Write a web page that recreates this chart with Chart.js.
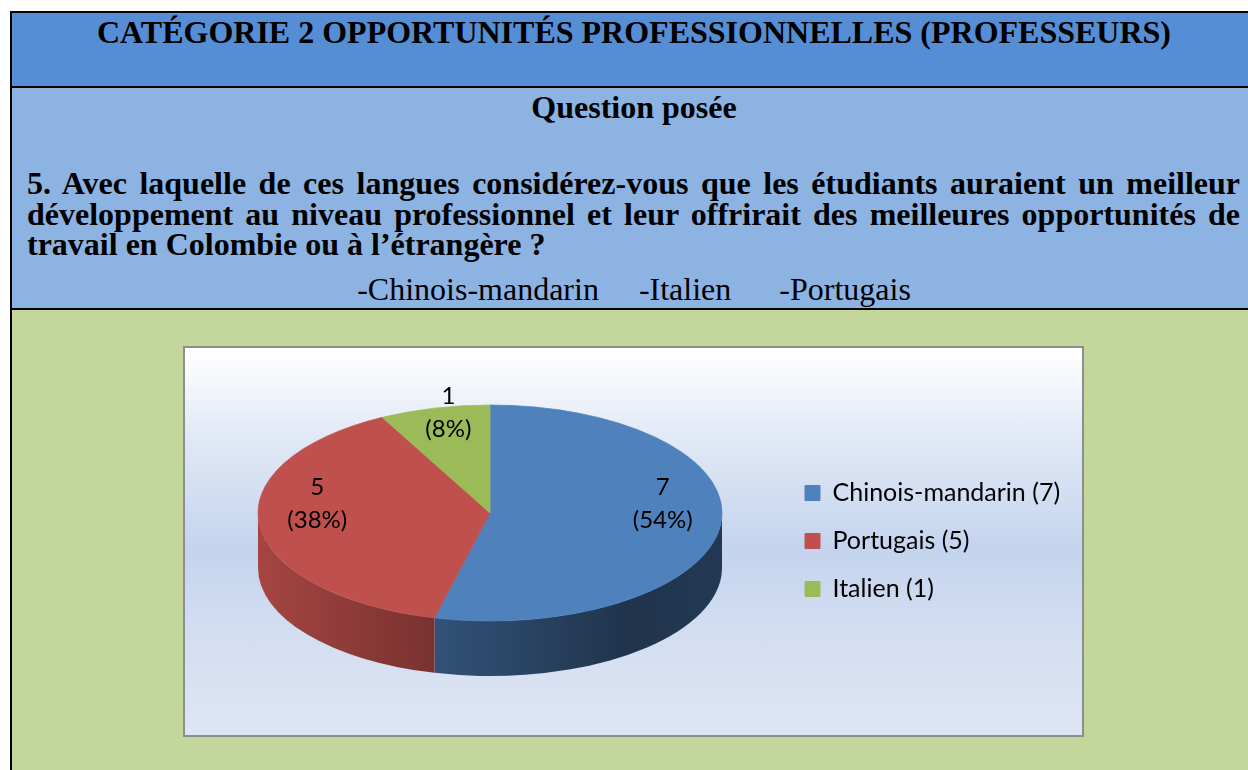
<!DOCTYPE html>
<html lang="fr">
<head>
  <meta charset="UTF-8" />
  <title>Catégorie 2 - Opportunités professionnelles (professeurs)</title>
  <script src="https://cdn.jsdelivr.net/npm/chart.js"></script>
  <style>
    html, body { margin: 0; padding: 0; background: #fff; width: 1248px; height: 770px; overflow: hidden; }
    .tableau {
      position: absolute; left: 10px; top: 11px; width: 1244px;
      border: 2px solid #000; border-bottom: none;
      font-family: "Liberation Serif", "Times New Roman", serif; color: #000;
    }
    .entete {
      height: 73px; background: #558ed5; border-bottom: 2px solid #000;
      text-align: center; font-weight: bold; font-size: 32px; line-height: 38px;
    }
    .question { position: relative; height: 220px; background: #8db3e2; border-bottom: 2px solid #000; }
    .question .titre { text-align: center; font-weight: bold; font-size: 32px; line-height: 38px; }
    .question .texte { position: absolute; left: 15px; right: 16px; top: 80px; font-weight: bold; font-size: 32px; line-height: 30.5px; }
    .texte .just { text-align: justify; text-align-last: justify; }
    .question .choix { position: absolute; left: 0; right: 0; top: 182px; text-align: center; font-size: 32px; line-height: 38px; white-space: pre; }
    .graphe { position: relative; height: 470px; background: #c3d69b; }
    .cadre {
      position: absolute; left: 171px; top: 36px; width: 897px; height: 387px;
      border: 2px solid #8e8e8e;
      background: linear-gradient(to bottom, #ffffff 0%, #dfe7f5 25%, #c4d4ee 52%, #d4def1 75%, #dee6f4 100%);
    }
    .cadre canvas { display: block; }
  </style>
</head>
<body>
  <div class="tableau">
    <div class="entete">CATÉGORIE 2 OPPORTUNITÉS PROFESSIONNELLES (PROFESSEURS)</div>
    <div class="question">
      <div class="titre">Question posée</div>
      <div class="texte">
        <div class="just">5. Avec laquelle de ces langues considérez-vous que les étudiants auraient un meilleur</div>
        <div class="just">développement au niveau professionnel et leur offrirait des meilleures opportunités de</div>
        <div>travail en Colombie ou à l’étrangère ?</div>
      </div>
      <div class="choix">-Chinois-mandarin     -Italien      -Portugais</div>
    </div>
    <div class="graphe">
      <div class="cadre"><canvas id="camembert" width="897" height="387"></canvas></div>
    </div>
  </div>

  <script>
    // Réponses des professeurs
    const categories = ['Chinois-mandarin', 'Portugais', 'Italien'];
    const reponses = [7, 5, 1];
    const couleurs = ['#4f81bd', '#c0504d', '#9bbb59'];

    const total = reponses.reduce((a, b) => a + b, 0);
    const etiquettes = categories.map((c, i) => c + ' (' + reponses[i] + ')');

    // Effet 3D : inclinaison du disque, épaisseur, ombrage des côtés
    const inclinaison = 0.4655;
    const epaisseur = 55;
    const ombrage = [[0, 0.86], [0.36, 0.64], [0.8, 0.40], [1, 0.44]];
    const rayon = 232;
    const policeLegende = { family: 'Lato', size: 25 };
    const policeValeurs = { family: 'Lato', size: 24 };

    function assombrir(hex, f) {
      const n = parseInt(hex.slice(1), 16);
      const r = Math.round(((n >> 16) & 255) * f);
      const g = Math.round(((n >> 8) & 255) * f);
      const b = Math.round((n & 255) * f);
      return 'rgb(' + r + ',' + g + ',' + b + ')';
    }

    // largeur de la légende pour garder le camembert à sa place
    const sonde = document.createElement('canvas').getContext('2d');
    sonde.font = policeLegende.size + 'px ' + policeLegende.family;
    const texteMax = Math.max(...etiquettes.map(t => sonde.measureText(t).width));
    const legendePadding = 23;
    const largeurLegende = legendePadding + 15 + policeLegende.size / 2 + texteMax + 10;
    const legendeGauche = 597;

    const camembert3d = {
      id: 'camembert3d',
      beforeDatasetsDraw(chart) {
        const ctx = chart.ctx;
        const arcs = chart.getDatasetMeta(0).data;
        const cx = arcs[0].x, cy = arcs[0].y, r = arcs[0].outerRadius;
        const ry = r * inclinaison;

        // côtés visibles (moitié avant du disque)
        arcs.forEach((arc, i) => {
          const a0 = Math.max(arc.startAngle, 0);
          const a1 = Math.min(arc.endAngle, Math.PI);
          if (a1 <= a0) return;
          const grad = ctx.createLinearGradient(cx - r, 0, cx + r, 0);
          ombrage.forEach(([t, f]) => grad.addColorStop(t, assombrir(couleurs[i], f)));
          ctx.beginPath();
          ctx.ellipse(cx, cy, r, ry, 0, a0, a1, false);
          ctx.ellipse(cx, cy + epaisseur, r, ry, 0, a1, a0, true);
          ctx.closePath();
          ctx.fillStyle = grad;
          ctx.fill();
        });

        // dessus du disque : on aplatit le dessin du camembert
        ctx.save();
        ctx.translate(cx, cy);
        ctx.scale(1, inclinaison);
        ctx.translate(-cx, -cy);
      },
      afterDatasetsDraw(chart) {
        const ctx = chart.ctx;
        ctx.restore();

        const arcs = chart.getDatasetMeta(0).data;
        const cx = arcs[0].x, cy = arcs[0].y, r = arcs[0].outerRadius;
        const ry = r * inclinaison;
        const perspective = 19;

        ctx.save();
        ctx.fillStyle = '#000';
        ctx.font = policeValeurs.size + 'px ' + policeValeurs.family;
        ctx.textAlign = 'center';
        ctx.textBaseline = 'middle';
        arcs.forEach((arc, i) => {
          const milieu = (arc.startAngle + arc.endAngle) / 2;
          const x = cx + 0.75 * r * Math.cos(milieu);
          const y = cy + 0.77 * ry * Math.sin(milieu) - perspective;
          const v = reponses[i];
          ctx.fillText(String(v), x, y - 16.5);
          ctx.fillText('(' + Math.round(v / total * 100) + '%)', x, y + 16.5);
        });
        ctx.restore();
      }
    };

    const ctxCamembert = document.getElementById('camembert').getContext('2d');
    new Chart(ctxCamembert, {
      type: 'pie',
      data: {
        labels: etiquettes,
        datasets: [{
          data: reponses,
          backgroundColor: couleurs,
          borderColor: couleurs,
          borderWidth: 1,
          radius: rayon,
          clip: false
        }]
      },
      options: {
        responsive: false,
        animation: false,
        events: [],
        layout: {
          padding: {
            left: 2 * 305 - legendeGauche,
            right: 897 - legendeGauche - largeurLegende,
            top: 53.5,
            bottom: 110.5
          }
        },
        plugins: {
          legend: {
            position: 'right',
            align: 'end',
            labels: {
              boxWidth: 15,
              boxHeight: 15,
              padding: legendePadding,
              color: '#000',
              font: policeLegende
            }
          },
          tooltip: { enabled: false }
        }
      },
      plugins: [camembert3d]
    });
  </script>
</body>
</html>
